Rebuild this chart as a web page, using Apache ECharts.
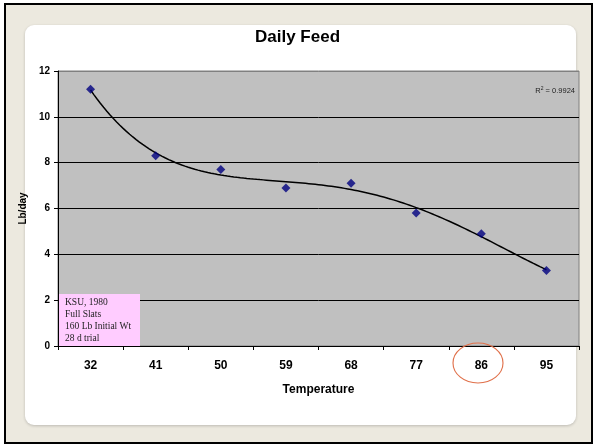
<!DOCTYPE html>
<html>
<head>
<meta charset="utf-8">
<script src="https://cdn.jsdelivr.net/npm/echarts@6/dist/echarts.min.js"></script>
<style>
  html, body { margin: 0; padding: 0; background: #fff; }
  #main { width: 595px; height: 445px; }
</style>
</head>
<body>
<div id="main"></div>
<script>
// 数据
const temps = ['32', '41', '50', '59', '68', '77', '86', '95']
const feed = [11.2, 8.3, 7.7, 6.9, 7.1, 5.8, 4.9, 3.3]
const yTicks = [0, 2, 4, 6, 8, 10, 12]
const noteLines = ['KSU, 1980', 'Full Slats', '160 Lb Initial Wt', '28 d trial']
const r2Text = '0.9924'

// 多项式趋势线 (最小二乘)
function polyFit(xs, ys, order) {
  const n = order + 1
  const A = []
  for (let i = 0; i < n; i++) {
    A.push(new Array(n + 1).fill(0))
    for (let j = 0; j < n; j++) {
      xs.forEach(x => { A[i][j] += Math.pow(x, i + j) })
    }
    xs.forEach((x, k) => { A[i][n] += ys[k] * Math.pow(x, i) })
  }
  for (let c = 0; c < n; c++) {
    let p = c
    for (let r = c + 1; r < n; r++) if (Math.abs(A[r][c]) > Math.abs(A[p][c])) p = r
    const tmp = A[c]; A[c] = A[p]; A[p] = tmp
    for (let r = 0; r < n; r++) {
      if (r === c) continue
      const f = A[r][c] / A[c][c]
      for (let k = c; k <= n; k++) A[r][k] -= f * A[c][k]
    }
  }
  return A.map((row, i) => row[n] / row[i])
}
const evalPoly = (co, x) => co.reduce((s, c, i) => s + c * Math.pow(x, i), 0)

const xs = feed.map((v, i) => i)
// 找到 R² 与图上一致的阶数
let coef = polyFit(xs, feed, 3)
let usedOrder = 3
const mean = feed.reduce((a, b) => a + b, 0) / feed.length
for (let order = 2; order <= 6; order++) {
  const co = polyFit(xs, feed, order)
  const ssRes = feed.reduce((s, y, i) => s + Math.pow(y - evalPoly(co, i), 2), 0)
  const ssTot = feed.reduce((s, y) => s + Math.pow(y - mean, 2), 0)
  if ((1 - ssRes / ssTot).toFixed(4) === r2Text) { coef = co; usedOrder = order; break }
}
const trend = []
for (let t = 0; t <= 7.0001; t += 0.05) trend.push([t, evalPoly(coef, t)])

const myChart = echarts.init(document.querySelector('#main'))
const option = {
  backgroundColor: '#fff',
  animation: false,
  title: {
    text: 'Daily Feed',
    left: 'center',
    top: 24,
    textStyle: { fontFamily: 'Arial', fontSize: 17, fontWeight: 'bold', color: '#000' }
  },
  grid: {
    left: 58, right: 16, top: 71, bottom: 99,
    show: true,
    backgroundColor: '#C0C0C0',
    borderColor: '#808080',
    borderWidth: 1
  },
  xAxis: [
    {
      type: 'category',
      data: temps,
      boundaryGap: true,
      name: 'Temperature',
      nameLocation: 'middle',
      nameGap: 38,
      nameTextStyle: { fontFamily: 'Arial', fontSize: 12, fontWeight: 'bold', color: '#000' },
      axisLine: { onZero: false, lineStyle: { color: '#000', width: 1 } },
      axisTick: { show: true, interval: 0, length: 4, lineStyle: { color: '#000' } },
      axisLabel: { margin: 14, fontFamily: 'Arial', fontSize: 12, fontWeight: 'bold', color: '#000' }
    },
    {
      type: 'value',
      min: -0.5,
      max: 7.5,
      show: false
    }
  ],
  yAxis: {
    type: 'value',
    min: 0,
    max: 12,
    interval: 2,
    name: 'Lb/day',
    nameLocation: 'middle',
    nameGap: 30,
    nameTextStyle: { fontFamily: 'Arial', fontSize: 10, fontWeight: 'bold', color: '#000' },
    axisLine: { show: true, onZero: false, lineStyle: { color: '#000', width: 1 } },
    axisTick: { show: true, length: 4, lineStyle: { color: '#000' } },
    axisLabel: { margin: 8, fontFamily: 'Arial', fontSize: 10, fontWeight: 'bold', color: '#000' },
    splitLine: {
      lineStyle: { color: yTicks.map(v => v === 12 ? '#808080' : '#000'), width: 1 }
    }
  },
  series: [
    {
      type: 'line',
      name: 'Poly. (' + usedOrder + ')',
      xAxisIndex: 1,
      data: trend,
      showSymbol: false,
      lineStyle: { color: '#000', width: 1.5 },
      z: 2
    },
    {
      type: 'scatter',
      data: feed,
      symbol: 'diamond',
      symbolSize: 9,
      itemStyle: { color: '#000080' },
      z: 3
    }
  ],
  graphic: [
    // 外框和白色卡片
    {
      type: 'rect', z: -100, silent: true,
      shape: { x: 5, y: 4, width: 587, height: 439 },
      style: { fill: '#ECE9DF', stroke: '#000', lineWidth: 2 }
    },
    {
      type: 'rect', z: -99, silent: true,
      shape: { x: 25, y: 25, width: 551, height: 400, r: 9 },
      style: { fill: '#fff', shadowBlur: 3, shadowColor: 'rgba(0,0,0,0.2)', shadowOffsetY: 1 }
    },
    // 注释框
    {
      type: 'rect', z: 100,
      shape: { x: 59, y: 294, width: 81, height: 52 },
      style: { fill: '#FFCCFF' }
    },
    {
      type: 'text', z: 101,
      left: 65, top: 296,
      style: {
        text: noteLines.join('\n'),
        font: '9.5px "Liberation Serif"',
        lineHeight: 12,
        fill: '#222'
      }
    },
    // R²
    {
      type: 'text', z: 101,
      right: 20, top: 86,
      style: {
        text: '{a|R}{s|2}{a| = ' + r2Text + '}',
        rich: {
          a: { fontFamily: 'Arial', fontSize: 7.5, fill: '#222', verticalAlign: 'bottom' },
          s: { fontFamily: 'Arial', fontSize: 5, fill: '#222', verticalAlign: 'top', padding: [0, 0, 4, 0] }
        }
      }
    },
    // 86 的红圈
    {
      type: 'circle', z: 101,
      x: 478, y: 363,
      scaleX: 1.25,
      shape: { cx: 0, cy: 0, r: 20 },
      style: { fill: 'none', stroke: '#E0704A', lineWidth: 0.9 }
    }
  ]
}
myChart.setOption(option)
</script>
</body>
</html>
